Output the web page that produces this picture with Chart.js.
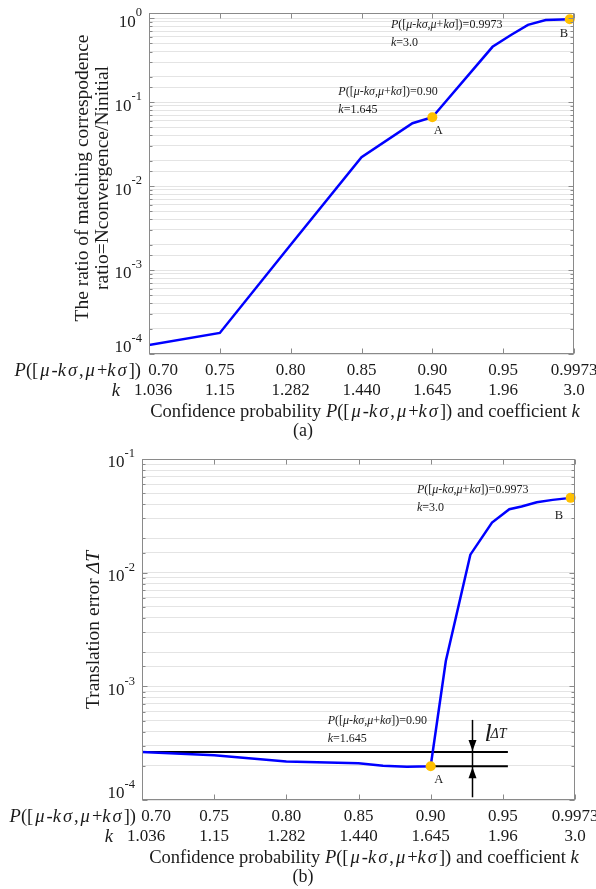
<!DOCTYPE html>
<html>
<head>
<meta charset="utf-8">
<script src="https://cdn.jsdelivr.net/npm/chart.js@4.4.1/dist/chart.umd.min.js"></script>
<style>
  html, body { margin: 0; padding: 0; background: #fff; }
  #wrap { position: relative; width: 596px; height: 889px; }
  canvas { position: absolute; left: 0; }
</style>
</head>
<body>
<div id="wrap">
  <canvas id="chartA" width="596" height="445" style="top:0"></canvas>
  <canvas id="chartB" width="596" height="444" style="top:445px"></canvas>
</div>
<script>
// tick labels of the shared x axis (equally spaced, index 0..6)
const probLabels = ["0.70", "0.75", "0.80", "0.85", "0.90", "0.95", "0.9973"];
const kLabels = ["1.036", "1.15", "1.282", "1.440", "1.645", "1.96", "3.0"];

// (a) ratio of matching correspondence, x given in tick-index units
const ratioX = [0, 1, 2, 3, 3.72, 4, 4.85, 5.11, 5.35, 5.6, 5.94];
const ratioY = [1.28e-4, 1.78e-4, 2.0e-3, 2.2e-2, 5.6e-2, 6.6e-2, 0.455, 0.63, 0.83, 0.95, 0.97];

// (b) translation error
const errX = [0, 1, 2, 3, 3.34, 3.67, 4, 4.21, 4.55, 4.85, 5.09, 5.26, 5.47, 5.69, 5.94];
const errY = [2.65e-4, 2.48e-4, 2.18e-4, 2.11e-4, 2.0e-4, 1.96e-4, 1.98e-4, 1.67e-3, 1.44e-2, 2.76e-2, 3.62e-2, 3.82e-2, 4.17e-2, 4.37e-2, 4.55e-2];

const decadesA = [1, 1e-1, 1e-2, 1e-3, 1e-4];
const decadesB = [1e-1, 1e-2, 1e-3, 1e-4];

const SERIF = '"Liberation Serif", "Times New Roman", serif';
const TXT = "#1a1a1a";
const BLUE = "#0000ff";
const GOLD = "#ffc000";

// [text, italic, extra side spacing for greek glyphs]
const pLabel = [["P", 1], ["([", 0], ["μ", 1, 2], ["-", 0], ["k", 1], ["σ", 1, 2], [",", 0],
  ["μ", 1, 2], ["+", 0], ["k", 1], ["σ", 1, 2], ["])", 0]];

function setFont(ctx, italic, size) {
  ctx.font = (italic ? "italic " : "") + size + "px " + SERIF;
}

// draw text made of roman/italic pieces
function rich(ctx, parts, x, y, size, align, wide) {
  const pad = p => (wide && p[2] ? p[2] : 0);
  let w = 0;
  parts.forEach(p => { setFont(ctx, p[1], size); w += ctx.measureText(p[0]).width + 2 * pad(p); });
  let cx = align === "right" ? x - w : align === "center" ? x - w / 2 : x;
  ctx.textAlign = "left";
  ctx.textBaseline = "middle";
  parts.forEach(p => {
    setFont(ctx, p[1], size);
    cx += pad(p);
    ctx.fillText(p[0], cx, y);
    cx += ctx.measureText(p[0]).width + pad(p);
  });
}

function makeDecor(opt) {
  return {
    id: "decor",
    afterDraw(chart) {
      const ctx = chart.ctx;
      const xs = chart.scales.x, ys = chart.scales.y;
      const { left, right, top, bottom } = chart.chartArea;
      ctx.save();

      // axes box with inward ticks
      ctx.strokeStyle = "#8a8a8a";
      ctx.lineWidth = 1;
      const L = Math.round(left) + 0.5, R = Math.round(right) - 0.5;
      const T = Math.round(top) + 0.5, B = Math.round(bottom) - 0.5;
      ctx.strokeRect(L, T, R - L, B - T);
      ctx.beginPath();
      for (let i = 0; i < probLabels.length; i++) {
        const px = Math.round(xs.getPixelForValue(i)) + 0.5;
        ctx.moveTo(px, B); ctx.lineTo(px, B - 5);
        ctx.moveTo(px, T); ctx.lineTo(px, T + 5);
      }
      ys.ticks.forEach(t => {
        const lg = Math.log10(t.value);
        const len = Math.abs(lg - Math.round(lg)) < 1e-6 ? 5 : 3;
        const py = Math.round(ys.getPixelForValue(t.value)) + 0.5;
        ctx.moveTo(L, py); ctx.lineTo(L + len, py);
        ctx.moveTo(R, py); ctx.lineTo(R - len, py);
      });
      ctx.stroke();

      ctx.fillStyle = TXT;
      // y tick labels 10^n
      opt.decades.forEach((v, i) => {
        const py = ys.getPixelForValue(v) + (i === opt.decades.length - 1 ? -6 : 4);
        const ex = String(Math.round(Math.log10(v)));
        setFont(ctx, false, 12.5);
        const we = ctx.measureText(ex).width;
        ctx.textBaseline = "middle";
        ctx.textAlign = "left";
        ctx.fillText(ex, left - 7 - we, py - 9);
        setFont(ctx, false, 17);
        ctx.textAlign = "right";
        ctx.fillText("10", left - 7 - we, py);
      });

      // x tick labels, two rows
      const r1 = bottom + 17, r2 = bottom + 37;
      for (let i = 0; i < probLabels.length; i++) {
        const px = xs.getPixelForValue(i);
        setFont(ctx, false, 17);
        ctx.textAlign = "center";
        ctx.textBaseline = "middle";
        ctx.fillText(probLabels[i], i === 0 ? px + 14 : px, r1);
        ctx.fillText(kLabels[i], i === 0 ? px + 4 : px, r2);
      }
      rich(ctx, pLabel, left - opt.pGap, r1, 18.5, "right", true);
      rich(ctx, [["k", 1]], left - 29, r2, 18.5, "right");

      // x title and caption
      rich(ctx, [["Confidence probability ", 0]].concat(pLabel, [[" and coefficient ", 0], ["k", 1]]),
        opt.titleX, bottom + 58, 18.5, "center", true);
      rich(ctx, [["(" + opt.caption + ")", 0]], 303, bottom + 77, 18, "center");

      // y title
      opt.yTitle.forEach((line, i) => {
        ctx.save();
        ctx.translate(opt.yTitleX[i], opt.yTitleY);
        ctx.rotate(-Math.PI / 2);
        rich(ctx, line, 0, 0, 19.5, "center");
        ctx.restore();
      });

      // annotations next to A and B
      opt.notes.forEach(n => {
        const px = xs.getPixelForValue(n.x), py = ys.getPixelForValue(n.y);
        rich(ctx, pLabel.concat([["=" + n.p, 0]]), px + n.dx, py + n.dy, 12, "left");
        rich(ctx, [["k", 1], ["=" + n.k, 0]], px + n.dx, py + n.dy + 18, 12, "left");
        rich(ctx, [[n.name, 0]], px + n.nx, py + n.ny, 12.5, "center");
      });

      if (opt.extra) opt.extra(chart, ctx);
      ctx.restore();
    }
  };
}

function baseOptions(yMin, yMax, pad) {
  return {
    responsive: false,
    animation: false,
    layout: { padding: pad, autoPadding: false },
    plugins: { legend: { display: false }, tooltip: { enabled: false } },
    scales: {
      x: {
        type: "linear", min: 0, max: 6,
        ticks: { display: false, stepSize: 1 },
        grid: { display: false },
        border: { display: false },
        afterFit(s) { s.height = 0; }
      },
      y: {
        type: "logarithmic", min: yMin, max: yMax,
        ticks: { display: false },
        grid: { color: "#e4e4e4", lineWidth: 1, drawTicks: false },
        border: { display: false },
        afterFit(s) { s.width = 0; }
      }
    }
  };
}

function pts(xArr, yArr) {
  return xArr.map((x, i) => ({ x: x, y: yArr[i] }));
}

// ---------- (a) ----------
const nA = ratioX.length - 1;
new Chart(document.getElementById("chartA"), {
  type: "line",
  data: {
    datasets: [
      { data: [{ x: ratioX[5], y: ratioY[5] }, { x: ratioX[nA], y: ratioY[nA] }],
        showLine: false, pointRadius: 5, pointBackgroundColor: GOLD, pointBorderWidth: 0, clip: false, order: 0 },
      { data: pts(ratioX, ratioY), borderColor: BLUE, borderWidth: 2.5, pointRadius: 0, tension: 0, order: 1 }
    ]
  },
  options: baseOptions(1e-4, 1.15, { left: 149, top: 13, right: 22, bottom: 91 }),
  plugins: [makeDecor({
    decades: decadesA,
    caption: "a",
    titleX: 365,
    pGap: 8,
    yTitle: [[["The ratio of matching correspodence", 0]], [["ratio=Nconvergence/Ninitial", 0]]],
    yTitleX: [83, 103],
    yTitleY: 178,
    notes: [
      { x: 4, y: ratioY[5], p: "0.90", k: "1.645", name: "A", dx: -94, dy: -25, nx: 6, ny: 13 },
      { x: 6, y: ratioY[nA], p: "0.9973", k: "3.0", name: "B", dx: -183, dy: 6, nx: -10, ny: 15 }
    ]
  })]
});

// ---------- (b) ----------
const nB = errX.length - 1;
const refEnd = 5.07;
const arrowX = 4.57;
new Chart(document.getElementById("chartB"), {
  type: "line",
  data: {
    datasets: [
      { data: [{ x: errX[6], y: errY[6] }, { x: errX[nB], y: errY[nB] }],
        showLine: false, pointRadius: 5, pointBackgroundColor: GOLD, pointBorderWidth: 0, clip: false, order: 0 },
      { data: pts(errX, errY), borderColor: BLUE, borderWidth: 2.5, pointRadius: 0, tension: 0, order: 1 },
      { data: [{ x: 0, y: errY[0] }, { x: refEnd, y: errY[0] }], borderColor: "#000", borderWidth: 2, pointRadius: 0, order: 2 },
      { data: [{ x: errX[6], y: errY[6] }, { x: refEnd, y: errY[6] }], borderColor: "#000", borderWidth: 2, pointRadius: 0, order: 2 }
    ]
  },
  options: baseOptions(1e-4, 1e-1, { left: 142, top: 14, right: 21, bottom: 89 }),
  plugins: [makeDecor({
    decades: decadesB,
    caption: "b",
    titleX: 364,
    pGap: 6,
    yTitle: [[["Translation error ", 0], ["ΔT", 1]]],
    yTitleX: [94],
    yTitleY: 185,
    notes: [
      { x: 4, y: errY[6], p: "0.90", k: "1.645", name: "A", dx: -103, dy: -45, nx: 8, ny: 13 },
      { x: 6, y: errY[nB], p: "0.9973", k: "3.0", name: "B", dx: -158, dy: -8, nx: -16, ny: 18 }
    ],
    extra(chart, ctx) {
      const xs = chart.scales.x, ys = chart.scales.y;
      const ax = Math.round(xs.getPixelForValue(arrowX)) + 0.5;
      const yUp = ys.getPixelForValue(errY[0]);
      const yLo = ys.getPixelForValue(errY[6]);
      ctx.strokeStyle = "#000";
      ctx.fillStyle = "#000";
      ctx.lineWidth = 1.5;
      ctx.beginPath();
      ctx.moveTo(ax, yUp - 32); ctx.lineTo(ax, yLo + 31);
      ctx.stroke();
      // arrow heads
      ctx.beginPath();
      ctx.moveTo(ax, yUp - 1); ctx.lineTo(ax - 4, yUp - 12); ctx.lineTo(ax + 4, yUp - 12); ctx.closePath();
      ctx.moveTo(ax, yLo + 1); ctx.lineTo(ax - 4, yLo + 12); ctx.lineTo(ax + 4, yLo + 12); ctx.closePath();
      ctx.fill();
      ctx.fillStyle = TXT;
      ctx.textAlign = "left";
      ctx.textBaseline = "alphabetic";
      setFont(ctx, true, 26);
      ctx.fillText("l", ax + 12, yUp - 11);
      setFont(ctx, true, 14);
      ctx.fillText("ΔT", ax + 18, yUp - 14);
    }
  })]
});
</script>
</body>
</html>
